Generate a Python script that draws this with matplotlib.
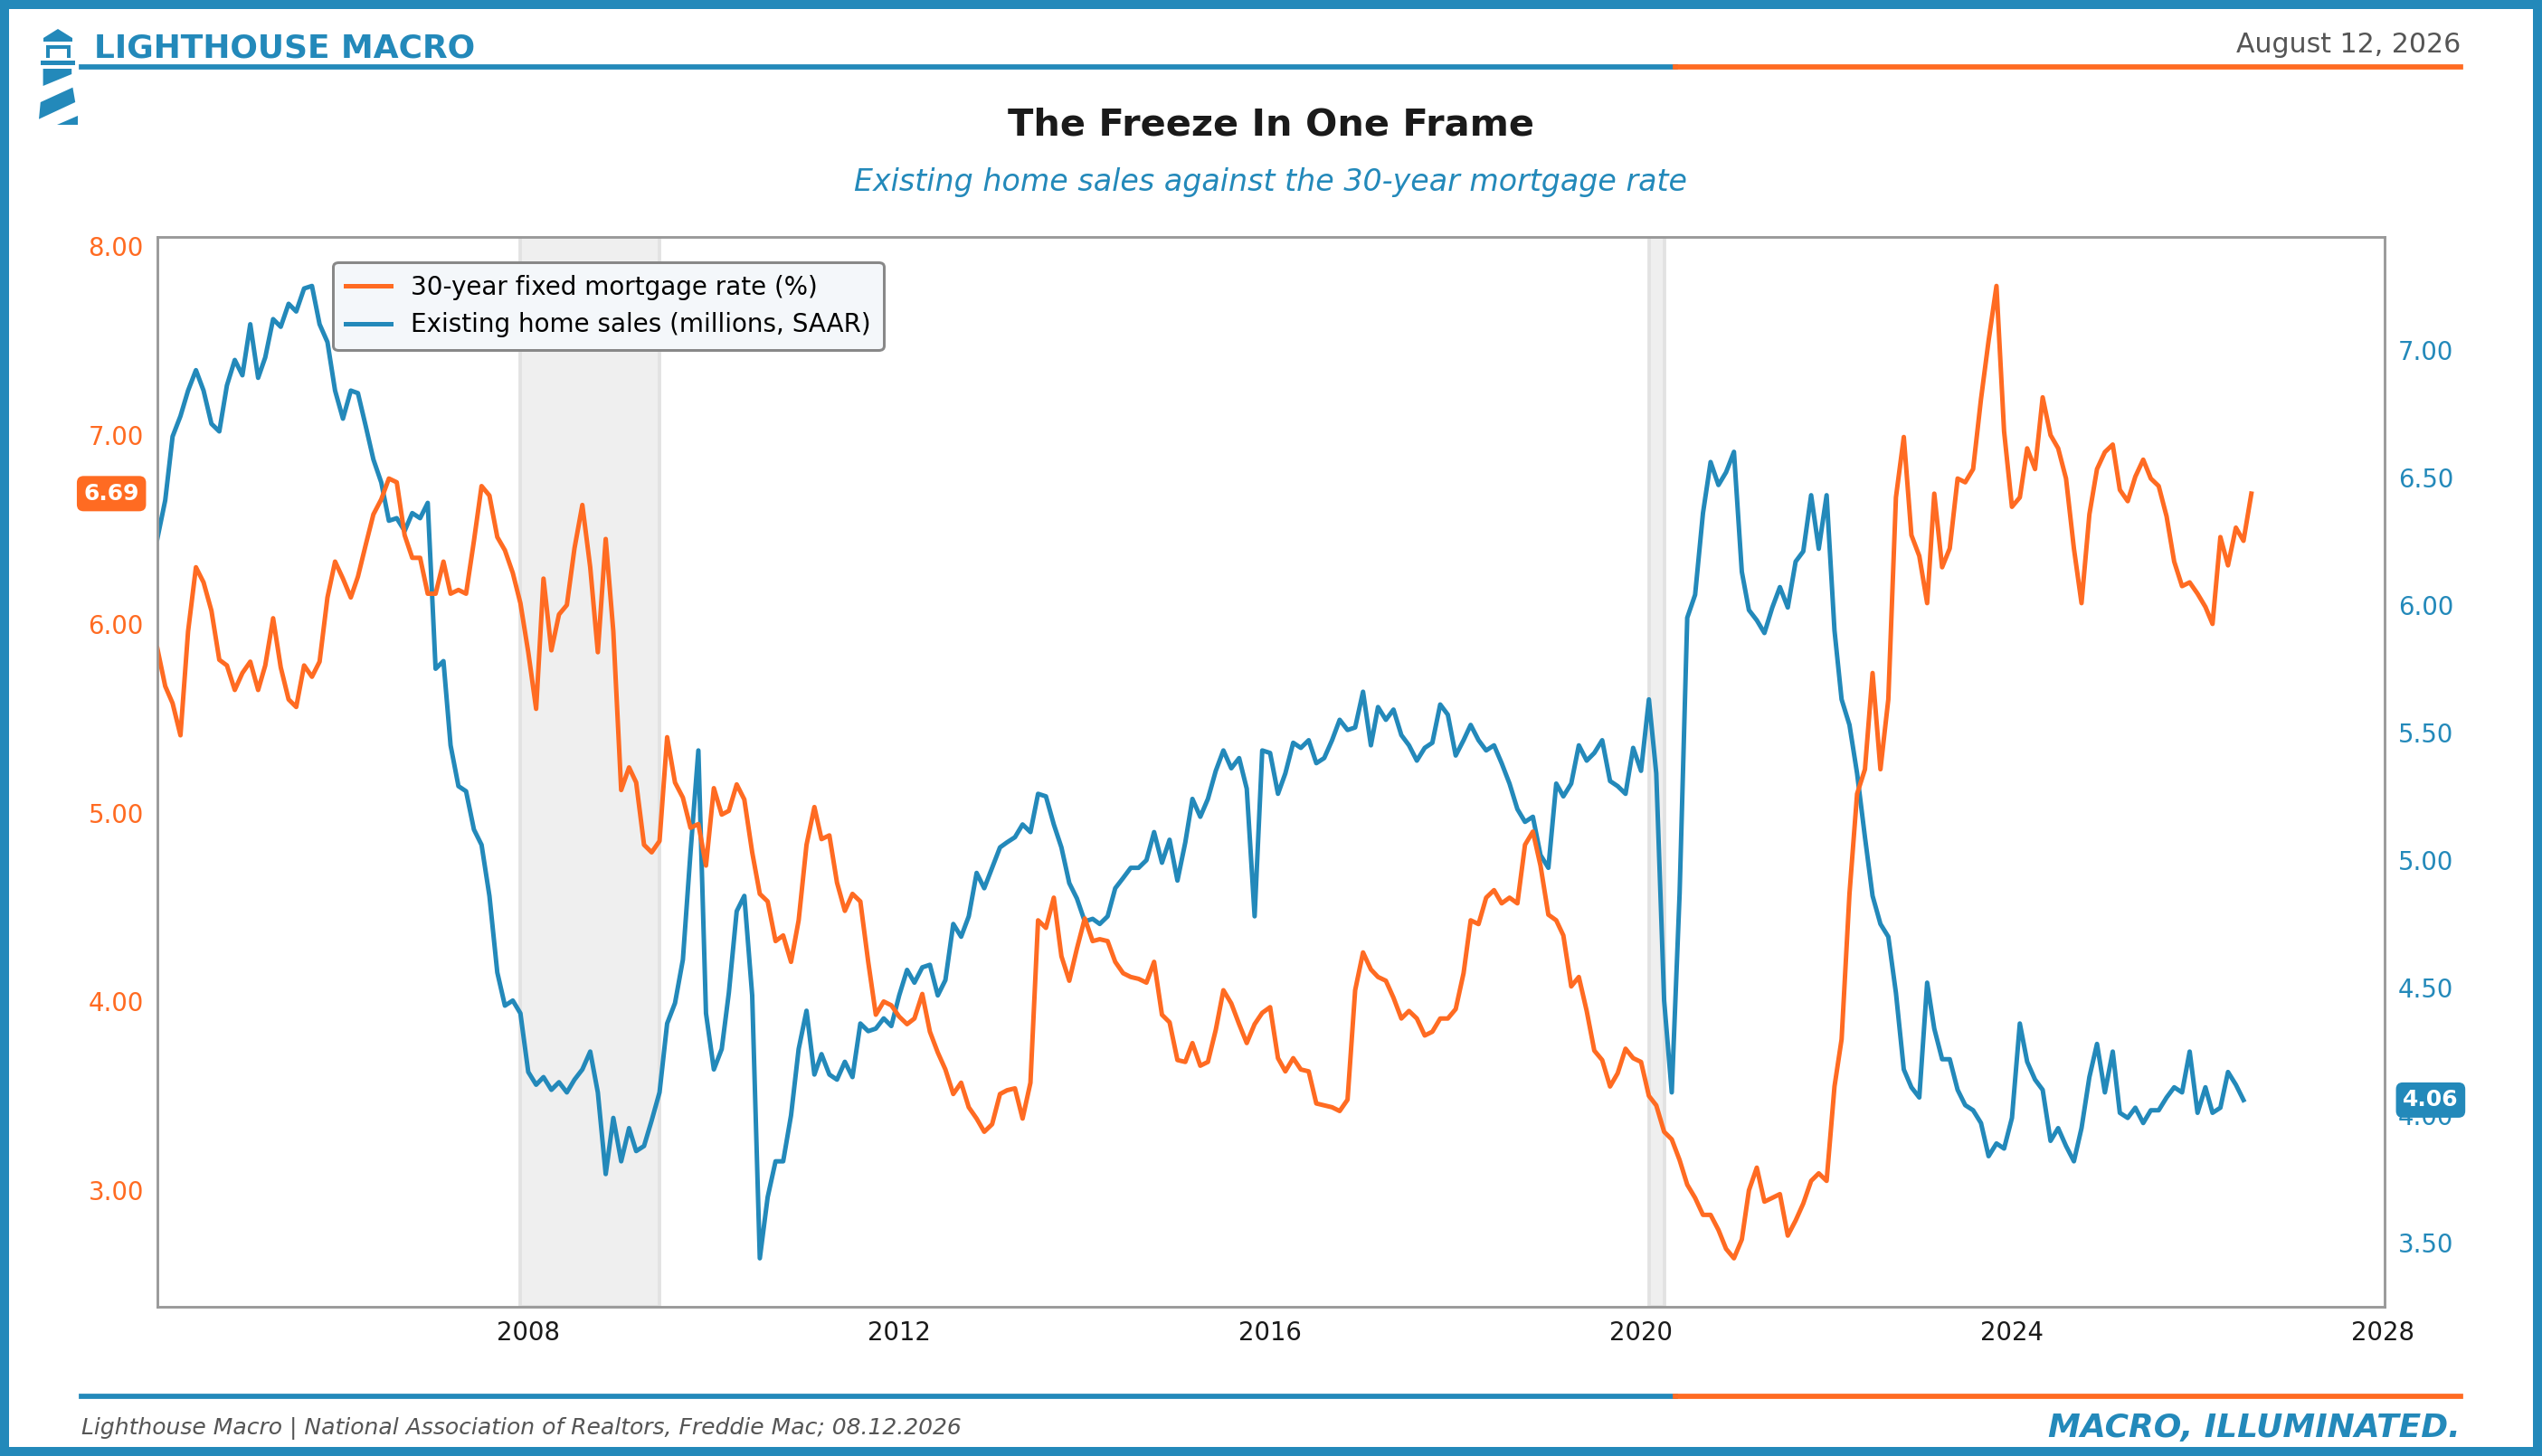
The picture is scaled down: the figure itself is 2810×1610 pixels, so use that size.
import matplotlib
matplotlib.use("Agg")
import matplotlib.pyplot as plt
import matplotlib.dates as mdates
from matplotlib.patches import Polygon, Rectangle
from matplotlib.lines import Line2D
import pandas as pd

ORANGE = "#FF6B22"
BLUE = "#2389BA"

# 30-year fixed mortgage rate (%), monthly from Jan 2004 to Aug 2026
mortgage_rate = [
    5.87, 5.67, 5.58, 5.41, 5.96, 6.30, 6.22, 6.07, 5.81, 5.78, 5.65, 5.74,
    5.80, 5.65, 5.78, 6.03, 5.77, 5.60, 5.56, 5.78, 5.72, 5.80, 6.14, 6.33,
    6.24, 6.14, 6.25, 6.42, 6.58, 6.66, 6.77, 6.75, 6.47, 6.35, 6.35, 6.16,
    6.16, 6.33, 6.16, 6.18, 6.16, 6.44, 6.73, 6.68, 6.46, 6.39, 6.27, 6.11,
    5.85, 5.55, 6.24, 5.86, 6.05, 6.10, 6.40, 6.63, 6.30, 5.85, 6.45, 5.96,
    5.12, 5.24, 5.16, 4.83, 4.79, 4.85, 5.40, 5.16, 5.08, 4.92, 4.94, 4.72,
    5.13, 4.99, 5.01, 5.15, 5.07, 4.79, 4.57, 4.53, 4.32, 4.35, 4.21, 4.43,
    4.83, 5.03, 4.86, 4.88, 4.63, 4.48, 4.57, 4.53, 4.21, 3.93, 4.00, 3.98,
    3.92, 3.88, 3.91, 4.04, 3.84, 3.73, 3.64, 3.51, 3.57, 3.44, 3.38, 3.31,
    3.35, 3.51, 3.53, 3.54, 3.38, 3.57, 4.43, 4.39, 4.55, 4.24, 4.11, 4.28,
    4.44, 4.32, 4.33, 4.32, 4.21, 4.15, 4.13, 4.12, 4.10, 4.21, 3.93, 3.89,
    3.69, 3.68, 3.78, 3.66, 3.68, 3.85, 4.06, 3.99, 3.88, 3.78, 3.88, 3.94,
    3.97, 3.70, 3.63, 3.70, 3.64, 3.63, 3.46, 3.45, 3.44, 3.42, 3.48, 4.06,
    4.26, 4.17, 4.13, 4.11, 4.02, 3.91, 3.95, 3.91, 3.82, 3.84, 3.91, 3.91,
    3.96, 4.15, 4.43, 4.41, 4.55, 4.59, 4.52, 4.55, 4.52, 4.83, 4.90, 4.72,
    4.46, 4.43, 4.35, 4.08, 4.13, 3.95, 3.74, 3.69, 3.55, 3.62, 3.75, 3.70,
    3.68, 3.50, 3.45, 3.31, 3.27, 3.16, 3.03, 2.96, 2.87, 2.87, 2.79, 2.69,
    2.64, 2.74, 3.00, 3.12, 2.94, 2.96, 2.98, 2.76, 2.84, 2.93, 3.05, 3.09,
    3.05, 3.55, 3.80, 4.57, 5.10, 5.23, 5.74, 5.23, 5.60, 6.67, 6.99, 6.47,
    6.36, 6.11, 6.69, 6.30, 6.40, 6.77, 6.75, 6.82, 7.19, 7.50, 7.79, 7.02,
    6.62, 6.67, 6.93, 6.82, 7.20, 7.00, 6.93, 6.77, 6.40, 6.11, 6.58, 6.82,
    6.91, 6.95, 6.71, 6.65, 6.78, 6.87, 6.77, 6.73, 6.57, 6.33, 6.20, 6.22,
    6.16, 6.09, 6.00, 6.46, 6.31, 6.51, 6.44, 6.69,
]

# Existing home sales (millions, SAAR), monthly from Jan 2004 to Jul 2026
home_sales = [
    6.26, 6.41, 6.66, 6.74, 6.84, 6.92, 6.84, 6.71, 6.68, 6.86, 6.96, 6.90,
    7.10, 6.89, 6.97, 7.12, 7.09, 7.18, 7.15, 7.24, 7.25, 7.10, 7.03, 6.84,
    6.73, 6.84, 6.83, 6.70, 6.57, 6.48, 6.33, 6.34, 6.29, 6.36, 6.34, 6.40,
    5.75, 5.78, 5.45, 5.29, 5.27, 5.12, 5.06, 4.86, 4.56, 4.43, 4.45, 4.40,
    4.17, 4.12, 4.15, 4.10, 4.13, 4.09, 4.14, 4.18, 4.25, 4.09, 3.77, 3.99,
    3.82, 3.95, 3.86, 3.88, 3.98, 4.09, 4.36, 4.44, 4.61, 5.03, 5.43, 4.40,
    4.18, 4.26, 4.48, 4.80, 4.86, 4.47, 3.44, 3.68, 3.82, 3.82, 4.00, 4.26,
    4.41, 4.16, 4.24, 4.16, 4.14, 4.21, 4.15, 4.36, 4.33, 4.34, 4.38, 4.35,
    4.47, 4.57, 4.52, 4.58, 4.59, 4.47, 4.53, 4.75, 4.70, 4.78, 4.95, 4.89,
    4.97, 5.05, 5.07, 5.09, 5.14, 5.11, 5.26, 5.25, 5.14, 5.05, 4.91, 4.85,
    4.76, 4.77, 4.75, 4.78, 4.89, 4.93, 4.97, 4.97, 5.00, 5.11, 4.99, 5.08,
    4.92, 5.07, 5.24, 5.17, 5.24, 5.35, 5.43, 5.36, 5.40, 5.28, 4.78, 5.43,
    5.42, 5.26, 5.34, 5.46, 5.44, 5.47, 5.38, 5.40, 5.47, 5.55, 5.51, 5.52,
    5.66, 5.45, 5.60, 5.55, 5.59, 5.49, 5.45, 5.39, 5.44, 5.46, 5.61, 5.57,
    5.41, 5.47, 5.53, 5.47, 5.43, 5.45, 5.38, 5.30, 5.20, 5.15, 5.17, 5.02,
    4.97, 5.30, 5.25, 5.30, 5.45, 5.39, 5.42, 5.47, 5.31, 5.29, 5.26, 5.44,
    5.35, 5.63, 5.34, 4.45, 4.09, 4.87, 5.95, 6.04, 6.36, 6.56, 6.47, 6.52,
    6.60, 6.13, 5.98, 5.94, 5.89, 5.99, 6.07, 5.99, 6.17, 6.21, 6.43, 6.22,
    6.43, 5.90, 5.63, 5.53, 5.34, 5.09, 4.86, 4.75, 4.70, 4.48, 4.18, 4.11,
    4.07, 4.52, 4.34, 4.22, 4.22, 4.10, 4.04, 4.02, 3.97, 3.84, 3.89, 3.87,
    3.99, 4.36, 4.21, 4.14, 4.10, 3.90, 3.95, 3.88, 3.82, 3.95, 4.15, 4.28,
    4.09, 4.25, 4.01, 3.99, 4.03, 3.97, 4.02, 4.02, 4.07, 4.11, 4.09, 4.25,
    4.01, 4.11, 4.01, 4.03, 4.17, 4.12, 4.06,
]

recessions = [("2007-12-01", "2009-06-01"), ("2020-02-01", "2020-04-01")]
year_ticks = [2008, 2012, 2016, 2020, 2024, 2028]

rate_dates = pd.date_range("2004-01-01", periods=len(mortgage_rate), freq="MS")
sales_dates = pd.date_range("2004-01-01", periods=len(home_sales), freq="MS")

fig = plt.figure(figsize=(2810 / 180, 1610 / 180), dpi=180)
fig.patch.set_facecolor("white")

# outer frame
fig.patches.append(Rectangle((0, 0), 1, 1, transform=fig.transFigure, fill=False,
                             edgecolor=BLUE, linewidth=8, zorder=10))

# header / footer rules
for y in (0.954, 0.0412):
    fig.add_artist(Line2D([0.0319, 0.659], [y, y], color=BLUE, lw=2.3, transform=fig.transFigure))
    fig.add_artist(Line2D([0.659, 0.968], [y, y], color=ORANGE, lw=2.3, transform=fig.transFigure))

fig.text(0.037, 0.967, "LIGHTHOUSE MACRO", color=BLUE, fontsize=14.4, fontweight="bold", va="center")
fig.text(0.968, 0.969, "August 12, 2026", color="#555555", fontsize=12, ha="right", va="center")
fig.text(0.5, 0.914, "The Freeze In One Frame", color="#1a1a1a", fontsize=16.6, fontweight="bold",
         ha="center", va="center")
fig.text(0.5, 0.875, "Existing home sales against the 30-year mortgage rate", color=BLUE,
         fontsize=13.3, style="italic", ha="center", va="center")
fig.text(0.0319, 0.019, "Lighthouse Macro | National Association of Realtors, Freddie Mac; 08.12.2026",
         color="#555555", fontsize=10, style="italic", va="center")
fig.text(0.968, 0.019, "MACRO, ILLUMINATED.", color=BLUE, fontsize=14.4, fontweight="bold",
         style="italic", ha="right", va="center")

# lighthouse logo (pixel box)
logo = fig.add_axes([40 / 2810, 1 - 142 / 1610, 50 / 2810, 114 / 1610])
logo.set_xlim(40, 90)
logo.set_ylim(142, 28)
logo.axis("off")
shapes = [
    [(48, 46), (80, 46), (80, 42), (64, 32), (48, 42)],
    [(50.5, 50), (77.5, 50), (77.5, 54), (50.5, 54)],
    [(50.5, 50), (54.5, 50), (54.5, 64), (50.5, 64)],
    [(73.5, 50), (77.5, 50), (77.5, 64), (73.5, 64)],
    [(45, 66.5), (83, 66.5), (83, 71.5), (45, 71.5)],
    [(47.6, 76), (79.2, 76), (79.2, 82), (47.6, 95)],
    [(80.4, 96.7), (83.2, 113), (43, 131.7), (44.8, 113)],
    [(86.1, 128.3), (86.1, 138.3), (63.1, 138.3)],
]
for pts in shapes:
    logo.add_patch(Polygon(pts, closed=True, facecolor=BLUE, edgecolor="none"))

# main chart
ax = fig.add_axes([0.0619, 0.1024, 0.8762, 0.7346])
ax2 = ax.twinx()
ax.set_zorder(ax2.get_zorder() + 1)
ax.patch.set_visible(False)

for start, end in recessions:
    ax2.axvspan(pd.Timestamp(start), pd.Timestamp(end), facecolor="#efefef",
                edgecolor="#e2e2e2", lw=1.5, zorder=0)

l1, = ax.plot(rate_dates, mortgage_rate, color=ORANGE, lw=2.0, label="30-year fixed mortgage rate (%)")
l2, = ax2.plot(sales_dates, home_sales, color=BLUE, lw=2.0, label="Existing home sales (millions, SAAR)")

ax.set_xlim(pd.Timestamp("2004-01-01"), pd.Timestamp("2028-01-08"))
ax.set_xticks([pd.Timestamp(f"{y}-01-01") for y in year_ticks])
ax.xaxis.set_major_formatter(mdates.DateFormatter("%Y"))

ax.set_yticks([3, 4, 5, 6, 7, 8])
ax.yaxis.set_major_formatter(plt.FormatStrFormatter("%.2f"))
ax2.set_yticks([3.5, 4.0, 4.5, 5.0, 5.5, 6.0, 6.5, 7.0])
ax2.yaxis.set_major_formatter(plt.FormatStrFormatter("%.2f"))

ax.tick_params(axis="y", colors=ORANGE, labelsize=11, length=0, pad=6)
ax.tick_params(axis="x", colors="#1a1a1a", labelsize=11, length=0, pad=6)
ax2.tick_params(axis="y", colors=BLUE, labelsize=11, length=0, pad=6)
for a in (ax, ax2):
    for s in a.spines.values():
        s.set_color("#999999")
        s.set_linewidth(1.0)

leg = ax.legend(handles=[l1, l2], loc="upper left", bbox_to_anchor=(0.079, 0.977),
                borderaxespad=0, fontsize=11.1, frameon=True, fancybox=True,
                handlelength=1.8, borderpad=0.5, labelspacing=0.5)
leg.get_frame().set_facecolor("#F4F7FA")
leg.get_frame().set_edgecolor("#888888")
leg.get_frame().set_linewidth(1.2)
leg.get_frame().set_alpha(1)

# last-value tags
ax.annotate(f"{mortgage_rate[-1]:.2f}", xy=(0, mortgage_rate[-1]), xycoords=("axes fraction", "data"),
            xytext=(-8, 0), textcoords="offset points", ha="right", va="center",
            fontsize=10, fontweight="bold", color="white", annotation_clip=False,
            bbox=dict(boxstyle="round,pad=0.3", fc=ORANGE, ec="none"))
ax2.annotate(f"{home_sales[-1]:.2f}", xy=(1, home_sales[-1]), xycoords=("axes fraction", "data"),
             xytext=(8, 0), textcoords="offset points", ha="left", va="center",
             fontsize=10, fontweight="bold", color="white", annotation_clip=False,
             bbox=dict(boxstyle="round,pad=0.3", fc=BLUE, ec="none"))

fig.savefig("out.png", dpi=180, facecolor="white")
